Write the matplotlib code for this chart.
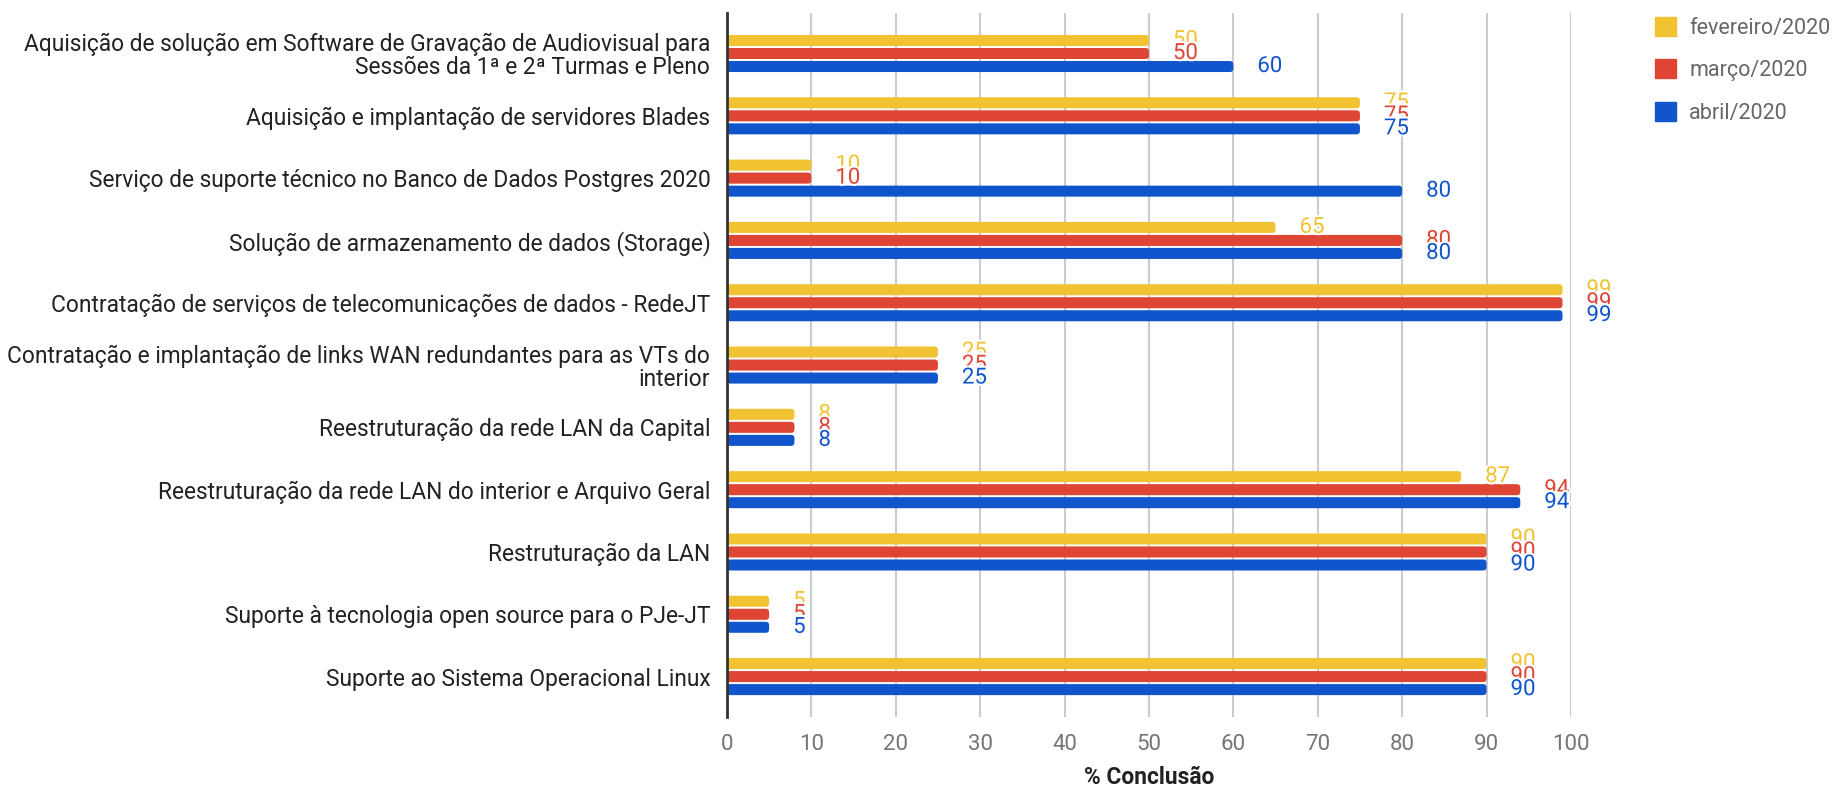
import matplotlib
matplotlib.use("Agg")
import matplotlib.pyplot as plt
import matplotlib.patheffects as pe
from matplotlib.patches import FancyBboxPatch
import numpy as np

categories = [
    "Aquisição de solução em Software de Gravação de Audiovisual para\nSessões da 1ª e 2ª Turmas e Pleno",
    "Aquisição e implantação de servidores Blades",
    "Serviço de suporte técnico no Banco de Dados Postgres 2020",
    "Solução de armazenamento de dados (Storage)",
    "Contratação de serviços de telecomunicações de dados - RedeJT",
    "Contratação e implantação de links WAN redundantes para as VTs do\ninterior",
    "Reestruturação da rede LAN da Capital",
    "Reestruturação da rede LAN do interior e Arquivo Geral",
    "Restruturação da LAN",
    "Suporte à tecnologia open source para o PJe-JT",
    "Suporte ao Sistema Operacional Linux",
]
series_names = ["fevereiro/2020", "março/2020", "abril/2020"]
fevereiro = [50, 75, 10, 65, 99, 25, 8, 87, 90, 5, 90]
marco = [50, 75, 10, 80, 99, 25, 8, 94, 90, 5, 90]
abril = [60, 75, 80, 80, 99, 25, 8, 94, 90, 5, 90]
x_ticks = [0, 10, 20, 30, 40, 50, 60, 70, 80, 90, 100]
x_title = "% Conclusão"

colors = ["#F1C232", "#DE4535", "#1155CC"]
values = [fevereiro, marco, abril]

plt.rcParams['font.family'] = ['Roboto', 'DejaVu Sans']

W, H = 1838, 788
left, right, bottom, top = 0.3955, 0.8547, 0.090, 0.9835
fig = plt.figure(figsize=(W / 100, H / 100), dpi=100)
ax = fig.add_axes([left, bottom, right - left, top - bottom])

ylim = (10.65, -0.65)
xlim = (0, 100)
x_per_px = (xlim[1] - xlim[0]) / ((right - left) * W)
y_per_px = (ylim[0] - ylim[1]) / ((top - bottom) * H)
rad_px = 3.5

y = np.arange(len(categories))
h = 0.177
off = 0.209
for i, (vals, col, name) in enumerate(zip(values, colors, series_names)):
    yy = y + (i - 1) * off
    bars = ax.barh(yy, vals, height=h, color=col, label=name, zorder=3)
    for r in bars:
        r.set_visible(False)
        fb = FancyBboxPatch((r.get_x(), r.get_y()), r.get_width(), r.get_height(),
                            boxstyle=f"round,pad=0,rounding_size={rad_px * x_per_px}",
                            mutation_aspect=y_per_px / x_per_px,
                            facecolor=col, edgecolor='none', zorder=3)
        ax.add_patch(fb)
    for yv, v in zip(yy, vals):
        ax.annotate(str(v), xy=(v, yv), xytext=(24, 0), textcoords='offset pixels',
                    ha='left', va='center', fontsize=16, color=col, zorder=5,
                    path_effects=[pe.withStroke(linewidth=3, foreground='white')])

ax.set_xlim(*xlim)
ax.set_ylim(*ylim)
ax.set_xticks(x_ticks)
ax.set_xticklabels([str(t) for t in x_ticks], fontsize=16, color='#757575')
ax.set_yticks(y)
ax.set_yticklabels(categories, fontsize=16.4, color='#222222', linespacing=1.0)
ax.tick_params(axis='both', length=0)
ax.tick_params(axis='y', pad=12)
ax.tick_params(axis='x', pad=12)
ax.xaxis.grid(True, color='#CCCCCC', linewidth=1.5, zorder=0)
ax.set_axisbelow(True)
for s in ['top', 'right', 'bottom']:
    ax.spines[s].set_visible(False)
ax.spines['left'].set_color('#333333')
ax.spines['left'].set_linewidth(2)
ax.spines['left'].set_zorder(4)
ax.set_xlabel(x_title, fontsize=16.4, fontweight='bold', color='#222222', labelpad=8)

handles = [plt.Rectangle((0, 0), 1, 1, color=c) for c in colors]
fig.legend(handles, series_names, loc='upper left', bbox_to_anchor=(1646 / W, 1 - 8 / H),
           frameon=False, fontsize=15.5, labelcolor='#666666', handlelength=1.0, handleheight=1.0,
           handletextpad=0.6, labelspacing=0.95, borderaxespad=0)

fig.savefig("out.png", dpi=100)
